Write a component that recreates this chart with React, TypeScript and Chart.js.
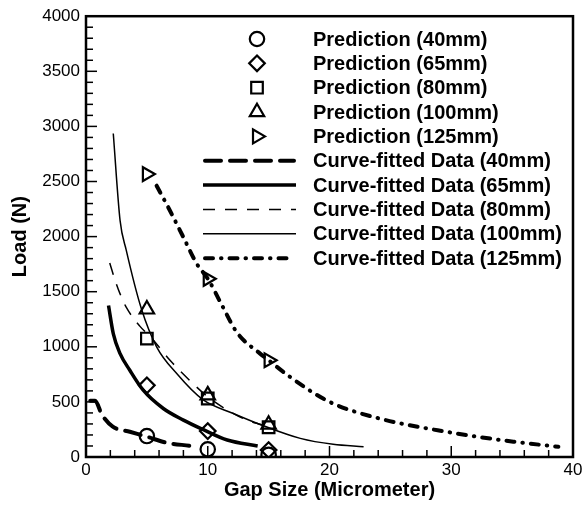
import React, { useEffect, useRef } from 'react';
import { Chart, registerables } from 'chart.js';
Chart.register(...registerables);

// Prediction markers
const predGaps = [5, 10, 15];
const pred40 = [190, 70, 20];
const pred65 = [650, 235, 63];
const pred80 = [1075, 531, 270];
const pred100 = [1340, 561, 295];
const pred125 = [2567, 1617, 878];

// Curve-fitted data
const fit40X = [0.35, 0.75, 1.3, 2.2, 3.6, 5, 6.6, 8.5];
const fit40Y = [510, 510, 385, 275, 229, 184, 130, 102];
const fit65X = [1.85, 2.24, 2.8, 3.6, 4.7, 6.35, 8.0, 9.6, 11.6, 14.1];
const fit65Y = [1375, 1120, 938, 787, 606, 440, 335, 250, 154, 100];
const fit80X = [1.95, 2.4, 2.8, 3.3, 4.4, 5.3, 6.9, 8.5, 10, 11.4, 13, 15.3];
const fit80Y = [1760, 1600, 1480, 1360, 1190, 1089, 878, 697, 546, 440, 345, 265];
const fit100X = [2.24, 2.8, 3.3, 4.55, 5.8, 7.45, 9.6, 12.1, 14.8, 17.6, 20.3, 22.8];
const fit100Y = [2935, 2145, 1880, 1345, 1000, 757, 520, 395, 274, 169, 115, 93];
const fit125X = [5.8, 6.9, 8.0, 9.1, 10.05, 11.2, 12.4, 14.3, 15, 16.75, 20, 23.9, 29.6, 35.1, 38.8];
const fit125Y = [2462, 2235, 1994, 1753, 1610, 1370, 1130, 938, 878, 727, 500, 355, 229, 139, 93];

const xTicks = [0, 10, 20, 30, 40];
const yTicks = [0, 500, 1000, 1500, 2000, 2500, 3000, 3500, 4000];

const predLabels = ['Prediction (40mm)', 'Prediction (65mm)', 'Prediction (80mm)', 'Prediction (100mm)', 'Prediction (125mm)'];
const fitLabels = ['Curve-fitted Data (40mm)', 'Curve-fitted Data (65mm)', 'Curve-fitted Data (80mm)', 'Curve-fitted Data (100mm)', 'Curve-fitted Data (125mm)'];

const FONT = '"Liberation Sans", Arial, sans-serif';

const toPts = (xs: number[], ys: number[]) => xs.map((x, i) => ({ x, y: ys[i] }));

const lineStyles = [
  { width: 4, dash: [16, 9], cap: 'round' },
  { width: 3.5, dash: [], cap: 'butt' },
  { width: 1.5, dash: [12, 10], cap: 'butt' },
  { width: 1.5, dash: [], cap: 'butt' },
  { width: 4, dash: [8, 8, 0.5, 8], cap: 'round' },
];

const markerStyles = [
  { style: 'circle', r: 7.2, rot: 0 },
  { style: 'rectRot', r: 7.8, rot: 0 },
  { style: 'rect', r: 8.2, rot: 0 },
  { style: 'triangle', r: 8.3, rot: 0 },
  { style: 'triangle', r: 8, rot: 90 },
];

function drawMarker(ctx: CanvasRenderingContext2D, kind: number, x: number, y: number) {
  ctx.beginPath();
  const m = markerStyles[kind];
  const r = m.r;
  if (kind === 0) {
    ctx.arc(x, y, r, 0, Math.PI * 2);
  } else if (kind === 1) {
    ctx.moveTo(x, y - r); ctx.lineTo(x + r, y); ctx.lineTo(x, y + r); ctx.lineTo(x - r, y); ctx.closePath();
  } else if (kind === 2) {
    const s = r * Math.SQRT1_2;
    ctx.rect(x - s, y - s, 2 * s, 2 * s);
  } else {
    const base = kind === 3 ? 0 : Math.PI / 2;
    for (let i = 0; i < 3; i++) {
      const a = base + (i * 2 * Math.PI) / 3;
      const px = x + Math.sin(a) * r;
      const py = y - Math.cos(a) * r;
      if (i === 0) ctx.moveTo(px, py); else ctx.lineTo(px, py);
    }
    ctx.closePath();
  }
  ctx.stroke();
}

const framePlugin = {
  id: 'frameTicks',
  afterDatasetsDraw(chart: any) {
    const { ctx, chartArea: a, scales } = chart;
    const xs = scales.x, ys = scales.y;
    ctx.save();
    ctx.strokeStyle = '#000';
    ctx.lineWidth = 1.5;
    for (let v = 0; v <= 40; v += 2) {
      const px = xs.getPixelForValue(v);
      const len = v % 10 === 0 ? 11 : 7;
      ctx.beginPath(); ctx.moveTo(px, a.bottom); ctx.lineTo(px, a.bottom - len); ctx.stroke();
    }
    for (let v = 0; v <= 4000; v += 100) {
      const py = ys.getPixelForValue(v);
      const len = v % 500 === 0 ? 11 : 7;
      ctx.beginPath(); ctx.moveTo(a.left, py); ctx.lineTo(a.left + len, py); ctx.stroke();
    }
    ctx.lineWidth = 2.5;
    ctx.strokeRect(a.left, a.top, a.right - a.left, a.bottom - a.top);
    ctx.restore();
  },
  afterDraw(chart: any) {
    const ctx: CanvasRenderingContext2D = chart.ctx;
    ctx.save();
    ctx.fillStyle = '#000';
    ctx.strokeStyle = '#000';
    ctx.font = 'bold 20px ' + FONT;
    ctx.textBaseline = 'middle';
    ctx.textAlign = 'left';
    const rowY0 = 39, step = 24.35;
    const markX = 257, textX = 313, lineX0 = 203, lineX1 = 296;
    for (let i = 0; i < 5; i++) {
      const y = rowY0 + i * step;
      ctx.lineWidth = 2.2;
      ctx.setLineDash([]);
      drawMarker(ctx, i, markX, y);
      ctx.fillText(predLabels[i], textX, y + 1);
    }
    for (let i = 0; i < 5; i++) {
      const y = rowY0 + (i + 5) * step;
      const st = lineStyles[i];
      ctx.lineWidth = st.width;
      ctx.lineCap = st.cap as CanvasLineCap;
      ctx.setLineDash(st.dash);
      const x0 = st.cap === 'round' ? lineX0 + st.width / 2 : lineX0;
      const x1 = st.cap === 'round' ? lineX1 - st.width / 2 : lineX1;
      ctx.beginPath(); ctx.moveTo(x0, y); ctx.lineTo(x1, y); ctx.stroke();
      ctx.setLineDash([]);
      ctx.lineCap = 'butt';
      ctx.fillText(fitLabels[i], textX, y + 1);
    }
    ctx.restore();
  },
};

export default function App() {
  const ref = useRef<HTMLCanvasElement | null>(null);
  useEffect(() => {
    if (!ref.current) return;
    const preds = [pred40, pred65, pred80, pred100, pred125];
    const fits = [toPts(fit40X, fit40Y), toPts(fit65X, fit65Y), toPts(fit80X, fit80Y), toPts(fit100X, fit100Y), toPts(fit125X, fit125Y)];
    const datasets: any[] = [];
    fits.forEach((pts, i) => {
      const st = lineStyles[i];
      datasets.push({
        label: fitLabels[i],
        data: pts,
        showLine: true,
        borderColor: '#000',
        backgroundColor: 'transparent',
        borderWidth: st.width,
        borderDash: st.dash,
        borderCapStyle: st.cap,
        pointRadius: 0,
        cubicInterpolationMode: 'monotone',
        fill: false,
      });
    });
    preds.forEach((vals, i) => {
      const m = markerStyles[i];
      datasets.push({
        label: predLabels[i],
        data: toPts(predGaps, vals),
        showLine: false,
        pointStyle: m.style,
        pointRadius: m.r,
        pointRotation: m.rot,
        pointBorderWidth: 2.2,
        pointBorderColor: '#000',
        pointBackgroundColor: 'transparent',
        borderColor: '#000',
        backgroundColor: 'transparent',
      });
    });
    const chart = new Chart(ref.current, {
      type: 'scatter',
      data: { datasets },
      plugins: [framePlugin],
      options: {
        animation: false,
        responsive: false,
        maintainAspectRatio: false,
        layout: { padding: { left: 0, top: 15, right: 14, bottom: 0 } },
        plugins: { legend: { display: false }, tooltip: { enabled: false } },
        scales: {
          x: {
            type: 'linear', min: 0, max: 40,
            afterFit: (s: any) => { s.height = 49; },
            afterBuildTicks: (s: any) => { s.ticks = xTicks.map((v) => ({ value: v })); },
            grid: { display: false, drawTicks: false },
            border: { display: false },
            ticks: { padding: 3, color: '#000', font: { family: FONT, size: 17 }, maxRotation: 0, callback: (v: any) => String(v) },
            title: { display: true, text: 'Gap Size (Micrometer)', color: '#000', font: { family: FONT, size: 20, weight: 'bold' }, padding: { top: 0, bottom: 4 } },
          },
          y: {
            type: 'linear', min: 0, max: 4000,
            afterFit: (s: any) => { s.width = 86; },
            afterBuildTicks: (s: any) => { s.ticks = yTicks.map((v) => ({ value: v })); },
            grid: { display: false, drawTicks: false },
            border: { display: false },
            ticks: { padding: 6, color: '#000', font: { family: FONT, size: 17 }, callback: (v: any) => String(v) },
            title: { display: true, text: 'Load (N)', color: '#000', font: { family: FONT, size: 20, weight: 'bold' }, padding: { top: 8, bottom: 0 } },
          },
        },
      } as any,
    });
    return () => chart.destroy();
  }, []);
  return (
    <div style={{ position: 'absolute', left: 0, top: 0, width: 587, height: 506, background: '#fff' }}>
      <canvas ref={ref} width={587} height={506} style={{ width: 587, height: 506, display: 'block' }} />
    </div>
  );
}
